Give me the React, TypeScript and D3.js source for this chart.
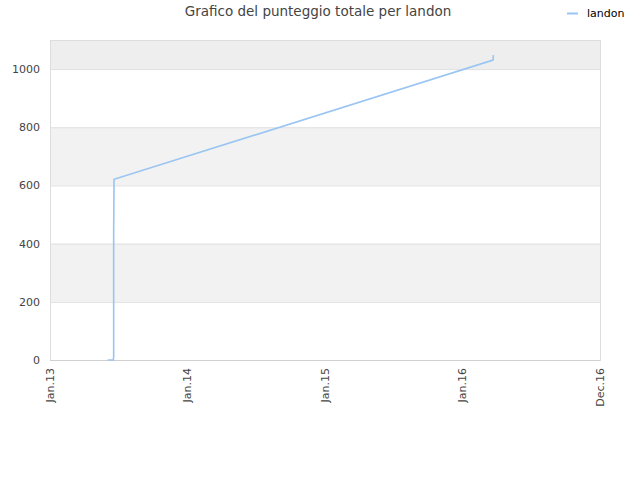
import React from "react";
import * as d3 from "d3";

const dates = [
  "2013-06-03", "2013-06-18", "2013-06-19", "2013-06-19", "2013-06-19", "2013-06-19",
  "2013-06-19", "2013-06-19", "2013-06-19", "2013-06-19", "2013-06-20", "2016-03-22", "2016-03-23",
];
const scores = [0, 0, 11, 26, 44, 69, 94, 122, 235, 435, 621, 1031, 1048];
const yTicks = [0, 200, 400, 600, 800, 1000];
const xTickDates = ["2013-01-01", "2014-01-01", "2015-01-01", "2016-01-01", "2016-12-31"];
const bands = [[200, 400], [600, 800], [1000, 1100]];

const W = 640, H = 480;
const M = { left: 50, right: 600, top: 40, bottom: 360 };

export default function App() {
  const parse = d3.timeParse("%Y-%m-%d");
  const x = d3.scaleTime()
    .domain([parse("2013-01-01")!, parse("2016-12-31")!])
    .range([M.left, M.right]);
  const y = d3.scaleLinear().domain([0, 1100]).range([M.bottom, M.top]);
  const fmt = d3.timeFormat("%b.%y");
  const pts = dates.map((d, i) => [x(parse(d)!), y(scores[i])] as [number, number]);
  const line = d3.line();
  const font = "'DejaVu Sans', sans-serif";
  return (
    <svg width={W} height={H} style={{ position: "absolute", left: 0, top: 0 }} fontFamily={font}>
      <rect x={0} y={0} width={W} height={H} fill="#fff" />
      {bands.map(([a, b], i) => (
        <rect key={i} x={M.left} y={y(b)} width={M.right - M.left} height={y(a) - y(b)}
          fill={b > 1000 ? "#eeeeee" : "#f2f2f2"} />
      ))}
      {yTicks.map((t) => (
        <line key={t} x1={M.left} x2={M.right} y1={y(t) + 0.5} y2={y(t) + 0.5} stroke="#e0e0e0" />
      ))}
      <rect x={M.left + 0.5} y={M.top + 0.5} width={M.right - M.left} height={M.bottom - M.top}
        fill="none" stroke="#dddddd" />
      <line x1={M.left} x2={M.right} y1={M.bottom + 0.5} y2={M.bottom + 0.5} stroke="#d0d0d0" />
      {yTicks.map((t) => (
        <text key={t} x={40} y={y(t) + 4} textAnchor="end" fontSize={11} fill="#444">{t}</text>
      ))}
      {xTickDates.map((d) => {
        const xx = x(parse(d)!);
        return (
          <text key={d} transform={`translate(${xx + 3.5},368) rotate(-90)`} textAnchor="end"
            fontSize={11} fill="#444">{fmt(parse(d)!)}</text>
        );
      })}
      <path d={line(pts)!} fill="none" stroke="#99c5f3" strokeWidth={1.6} />
      <text x={318} y={16} textAnchor="middle" fontSize={13.5} fill="#444">
        Grafico del punteggio totale per landon
      </text>
      <line x1={567} x2={578} y1={13.5} y2={13.5} stroke="#99c5f3" strokeWidth={2} />
      <text x={587} y={17} fontSize={11} fill="#000">landon</text>
    </svg>
  );
}
